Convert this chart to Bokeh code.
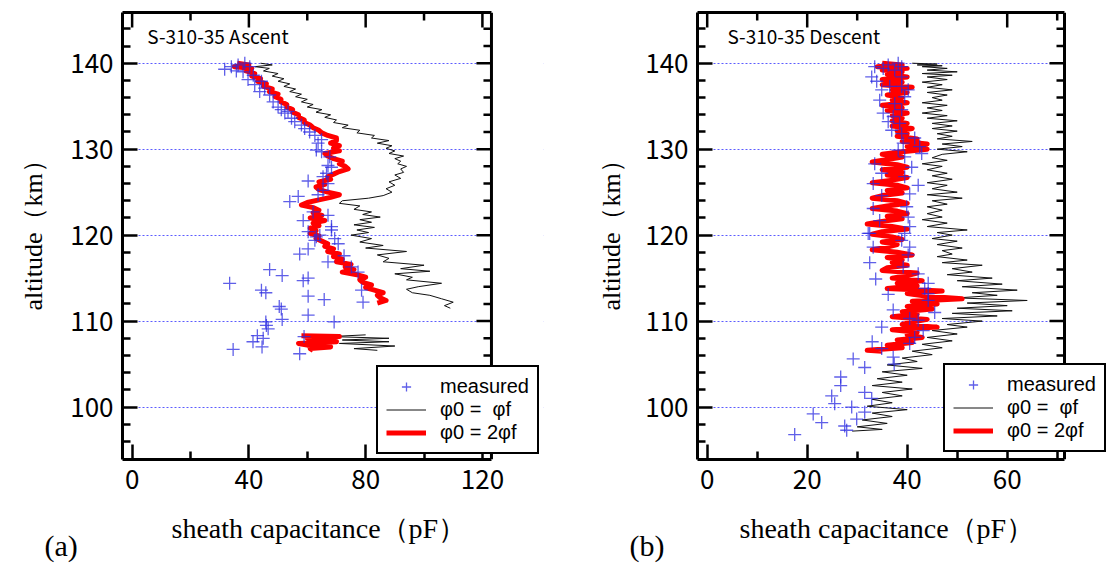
from bokeh.plotting import figure
from bokeh.models import (Range1d, LinearAxis, FixedTicker, Label, Legend, LegendItem,
                          Span, BoxAnnotation, Title)
from bokeh.layouts import row
from bokeh.embed import file_html
from bokeh.resources import INLINE
import math

# ---------------- Panel (a): S-310-35 Ascent ----------------
a_black_alt = [140.0, 139.8, 139.6, 139.4, 139.1, 138.8, 138.5, 138.2, 137.9, 137.6, 137.3, 137.0, 136.7, 136.4,
               136.1, 135.8, 135.5, 135.2, 134.9, 134.6, 134.3, 134.0, 133.7, 133.4, 133.1, 132.8, 132.5, 132.2,
               131.9, 131.6, 131.3, 131.0, 130.7, 130.4, 130.1, 129.8, 129.5, 129.2, 128.9, 128.6, 128.3, 128.0,
               127.7, 127.3, 127.0, 126.6, 126.2, 125.8, 125.4, 125.0, 124.6, 124.3, 124.0, 123.7, 123.4, 123.0,
               122.7, 122.4, 122.1, 121.8, 121.5, 121.2, 120.9, 120.6, 120.3, 120.0, 119.6, 119.2, 118.8, 118.5,
               118.1, 117.7, 117.3, 116.9, 116.5, 116.1, 115.8, 115.5, 115.1, 114.8, 114.4, 114.0, 113.7, 113.3,
               113.0, 112.6, 112.2, 111.8, 111.5]
a_black_cap = [44, 48, 42, 47, 45, 50, 48, 52, 50, 54, 52, 56, 54, 58,
               56, 60, 58, 62, 60, 65, 63, 68, 66, 70, 69, 74, 72, 78,
               77, 83, 82, 88, 84, 89, 87, 90, 88, 93, 90, 92, 91, 94,
               92, 93, 90, 92, 88, 90, 87, 89, 86, 81, 72, 71, 78, 76,
               82, 79, 85, 78, 82, 76, 83, 77, 81, 75, 82, 78, 86, 80,
               94, 84, 88, 86, 100, 92, 102, 90, 96, 94, 106, 98, 94, 96,
               102, 106, 110, 107, 109]
a_black_low_alt = [108.4, 108.2, 108.0, 107.8, 107.6, 107.4, 107.1, 106.8, 106.6]
a_black_low_cap = [80, 68, 88, 72, 88, 71, 90, 76, 84]

a_red_alt = [140.0, 139.8, 139.6, 139.4, 139.1, 138.8, 138.5, 138.2, 137.9, 137.6, 137.3, 137.0, 136.7, 136.4,
             136.1, 135.8, 135.5, 135.2, 134.9, 134.6, 134.3, 134.0, 133.7, 133.4, 133.1, 132.8, 132.5, 132.2,
             131.9, 131.6, 131.3, 131.0, 130.7, 130.4, 130.1, 129.8, 129.5, 129.2, 128.9, 128.6, 128.3, 128.0,
             127.7, 127.4, 127.1, 126.8, 126.5, 126.2, 125.9, 125.6, 125.3, 125.0, 124.7, 124.4, 124.1, 123.8,
             123.5, 123.2, 122.9, 122.6, 122.3, 122.0, 121.7, 121.4, 121.1, 120.8, 120.5, 120.2, 119.9, 119.6,
             119.3, 119.0, 118.7, 118.4, 118.1, 117.8, 117.5, 117.2, 116.9, 116.6, 116.3, 116.0, 115.7, 115.4,
             115.1, 114.8, 114.5, 114.2, 113.9, 113.6, 113.3, 113.0, 112.7, 112.4, 112.1]
a_red_cap = [36, 40, 35, 41, 39, 42, 41, 44, 43, 46, 45, 48, 47, 50,
             49, 51, 51, 53, 53, 55, 55, 57, 57, 59, 59, 61, 62, 64,
             65, 67, 70, 70, 68, 71, 69, 71, 66, 67, 69, 72, 71, 73,
             74, 71, 69, 67, 68, 64, 66, 63, 64, 67, 71, 68, 64, 60,
             58, 62, 64, 62, 65, 61, 66, 62, 64, 61, 63, 61, 64, 63,
             65, 67, 66, 69, 67, 71, 69, 72, 70, 75, 73, 76, 72, 77,
             80, 78, 79, 82, 80, 83, 86, 84, 85, 87, 84]
a_red_low_alt = [108.3, 108.2, 108.0, 107.8, 107.6, 107.4, 107.2, 107.0, 106.8, 106.6]
a_red_low_cap = [58, 71, 60, 63, 70, 57, 60, 68, 61, 62]

a_meas_cap = [31.7, 34.0, 36.3, 38.6, 40.3, 35.7, 38.0, 41.5, 39.7, 42.0, 44.3, 45.4, 43.7, 47.1, 48.3, 50.0,
              51.1, 52.3, 53.4, 54.6, 55.7, 58.0, 59.1, 60.8, 62.6, 64.9, 63.7, 63.1, 64.9, 67.7, 67.1, 68.3,
              66.6, 65.4, 67.1, 60.3, 65.4, 63.7, 54.0, 56.9, 58.6, 62.0, 67.1, 68.3, 60.3, 63.1,
              68.3, 64.3, 62.6, 69.4, 70.6, 60.3, 57.4, 72.6, 67.1, 75.1, 77.4, 47.1, 51.4, 33.4, 44.3, 45.8,
              58.6, 60.3, 60.3, 65.8, 78.6, 79.1, 50.4, 51.1, 51.4, 45.8, 46.0, 46.6, 60.3, 69.2, 42.9, 44.9,
              41.4, 44.5, 34.6, 58.9, 57.4]
a_meas_alt = [139.3, 139.6, 139.8, 140.0, 139.6, 139.1, 139.0, 138.6, 138.1, 137.5, 137.9, 137.1, 136.7, 136.3, 135.5, 134.9,
              134.6, 134.2, 134.4, 133.6, 133.2, 132.8, 132.4, 132.0, 131.6, 131.1, 130.7, 129.9, 129.7, 129.1, 128.1, 127.9,
              127.2, 126.8, 126.0, 126.3, 125.2, 124.7, 123.9, 124.5, 121.7, 122.7, 122.3, 121.0, 120.4, 119.8,
              120.6, 120.0, 119.4, 119.6, 119.0, 118.4, 117.8, 117.6, 116.9, 116.3, 115.7, 116.0, 115.3, 114.4, 113.6, 113.3,
              114.7, 115.0, 112.9, 112.5, 113.6, 112.2, 111.7, 111.4, 110.2, 109.9, 109.5, 109.1, 110.7, 109.9, 108.3, 108.0,
              107.6, 107.0, 106.7, 108.2, 106.2]

# ---------------- Panel (b): S-310-35 Descent ----------------
b_black_alt = [140.0, 139.9, 139.8, 139.7, 139.6, 139.4, 139.2, 139.0, 138.8, 138.6, 138.4, 138.1, 137.8, 137.5,
               137.2, 136.9, 136.6, 136.3, 136.0, 135.7, 135.4, 135.1, 134.8, 134.5, 134.2, 133.9, 133.6, 133.3,
               133.0, 132.7, 132.4, 132.1, 131.8, 131.5, 131.2, 130.9, 130.6, 130.3, 130.0, 129.7, 129.4, 129.0,
               128.7, 128.3, 128.0, 127.6, 127.2, 126.9, 126.5, 126.1, 125.8, 125.4, 125.0, 124.7, 124.3, 124.0,
               123.6, 123.3, 122.9, 122.5, 122.1, 121.8, 121.4, 121.0, 120.6, 120.3, 120.0, 119.6, 119.3, 118.9,
               118.5, 118.2, 117.8, 117.5, 117.1, 116.8, 116.5, 116.1, 115.7, 115.4, 115.0, 114.7, 114.3, 114.0,
               113.6, 113.3, 113.0, 112.7, 112.4, 112.1, 111.8, 111.5, 111.2, 110.9, 110.6, 110.3, 110.0, 109.6,
               109.3, 108.9, 108.5, 108.1, 107.7, 107.3, 106.9, 106.5, 106.1, 105.7, 105.3, 104.9, 104.5, 104.1,
               103.7, 103.3, 102.9, 102.5, 102.1, 101.7, 101.3, 100.9, 100.5, 100.1, 99.7, 99.3, 98.9, 98.5,
               98.1, 97.7, 97.4, 97.2]
b_black_cap = [41, 46, 42, 47, 43, 48, 44, 50, 43, 49, 44, 48, 43, 47,
               44, 49, 44, 48, 45, 47, 43, 48, 44, 47, 43, 48, 44, 50,
               45, 49, 45, 50, 46, 49, 46, 53, 47, 51, 46, 52, 47, 45,
               48, 43, 47, 44, 48, 45, 49, 44, 48, 45, 50, 44, 51, 45,
               48, 44, 47, 44, 47, 43, 48, 44, 52, 46, 49, 45, 50, 46,
               51, 47, 49, 46, 52, 47, 55, 49, 53, 48, 57, 50, 59, 51,
               62, 53, 58, 50, 64, 52, 60, 50, 61, 49, 58, 47, 55, 48,
               52, 45, 50, 44, 49, 43, 47, 41, 45, 39, 42, 36, 43, 35,
               40, 34, 39, 33, 41, 35, 39, 33, 37, 32, 40, 33, 37, 31,
               36, 30, 35, 29]

b_red_alt = [140.0, 139.8, 139.6, 139.4, 139.2, 139.0, 138.7, 138.4, 138.1, 137.8, 137.5, 137.2, 136.9, 136.6,
             136.3, 136.0, 135.7, 135.4, 135.1, 134.8, 134.5, 134.2, 133.9, 133.6, 133.3, 133.0, 132.7, 132.4,
             132.1, 131.8, 131.5, 131.2, 130.9, 130.6, 130.3, 130.0, 129.7, 129.4, 129.1, 128.8, 128.5, 128.2,
             127.9, 127.6, 127.3, 127.0, 126.7, 126.4, 126.1, 125.8, 125.5, 125.2, 124.9, 124.6, 124.3, 124.0,
             123.7, 123.4, 123.1, 122.8, 122.5, 122.2, 121.9, 121.6, 121.3, 121.0, 120.7, 120.4, 120.1, 119.8,
             119.5, 119.2, 118.9, 118.6, 118.3, 118.0, 117.7, 117.4, 117.1, 116.8, 116.5, 116.2, 115.9, 115.6,
             115.3, 115.0, 114.7, 114.4, 114.1, 113.8, 113.5, 113.2, 112.9, 112.6, 112.3, 112.0, 111.7, 111.4,
             111.1, 110.8, 110.5, 110.2, 109.9, 109.6, 109.3, 109.0, 108.7, 108.4, 108.1, 107.8, 107.5, 107.2,
             106.9, 106.6, 106.5]
b_red_cap = [35, 39, 34, 40, 35, 39, 36, 40, 35, 39, 35, 41, 37, 40,
             36, 39, 37, 40, 35, 39, 36, 40, 37, 39, 37, 40, 37, 41,
             38, 40, 38, 42, 39, 44, 40, 44, 39, 35, 39, 36, 33, 38,
             40, 35, 39, 36, 40, 37, 33, 38, 40, 36, 39, 35, 33, 38,
             40, 36, 33, 38, 40, 36, 39, 35, 32, 37, 40, 35, 33, 37,
             39, 35, 38, 36, 33, 38, 41, 36, 39, 37, 40, 36, 35, 42,
             40, 37, 43, 38, 42, 36, 47, 40, 44, 51, 41, 46, 40, 45,
             39, 42, 37, 44, 41, 39, 46, 37, 42, 40, 43, 38, 41, 36,
             39, 32, 35]

b_meas_cap = [32.9, 33.9, 34.9, 34.5, 35.2, 36.2, 36.9, 33.5, 34.9, 33.2, 34.9, 33.2, 34.5, 32.2,
              37.5, 38.9, 38.9, 39.5, 38.9, 38.5, 38.9, 41.5, 42.5, 42.9, 39.2, 39.5, 40.9, 39.5,
              42.2, 40.5, 39.9, 40.2, 40.5, 36.2, 38.2, 33.5, 35.2, 38.9, 40.2, 36.5, 37.5, 37.2, 38.2,
              32.5, 33.2, 32.5, 33.7, 36.2, 37.2, 34.9, 33.0, 34.9, 29.2, 31.5, 26.7, 26.7, 24.9, 25.5,
              28.9, 31.5, 32.9, 31.5, 29.9, 21.2, 22.9, 27.5, 27.9, 17.5, 37.2, 37.4, 40.5, 40.2, 39.2,
              42.2, 43.5, 44.2, 44.2, 45.5, 40.5, 42.2, 43.2, 41.5, 40.5, 38.9, 39.5, 44.2]
b_meas_alt = [138.4, 137.9, 136.9, 135.7, 134.2, 133.2, 132.2, 128.3, 127.2, 126.0, 124.6, 123.1, 121.7, 120.2,
              139.2, 138.4, 137.3, 136.1, 134.6, 133.0, 131.8, 131.3, 130.3, 129.5, 130.7, 129.1, 127.9, 126.8,
              125.8, 124.8, 123.3, 122.1, 121.0, 139.8, 140.0, 139.6, 139.4, 139.6, 136.9, 137.3, 135.3, 133.8, 129.9,
              120.2, 118.6, 116.8, 114.9, 113.1, 111.3, 109.3, 107.6, 106.8, 105.6, 104.6, 103.5, 102.5, 101.3, 100.4,
              100.0, 101.7, 101.0, 99.4, 98.6, 99.2, 98.2, 97.8, 97.3, 96.8, 105.8, 105.0, 118.6, 117.7, 116.3,
              115.5, 113.8, 113.2, 112.4, 111.0, 110.3, 110.1, 108.9, 108.1, 107.4, 119.4, 120.2, 114.4]

# ---------------- shared axis settings ----------------
alt_range = (93.9, 145.9)
alt_ticks = [100, 110, 120, 130, 140]
alt_minor = [96, 98, 102, 104, 106, 108, 112, 114, 116, 118, 122, 124, 126, 128, 132, 134, 136, 138, 142, 144]
a_xticks = [0, 40, 80, 120]
a_xminor = [20, 60, 100]
b_xticks = [0, 20, 40, 60]
b_xminor = [10, 30, 50, 70]

legend_labels = ["measured", "φ0 =  φf", "φ0 = 2φf"]
titles = ["S-310-35 Ascent", "S-310-35 Descent"]
xlabel = "sheath capacitance（pF）"
ylabel = "altitude（km）"
panel_tags = ["(a)", "(b)"]

GOTHIC = "Noto Sans CJK JP"
LEGEND_FONT = "Liberation Sans"
SERIF = "Liberation Serif"
BLUE = "#2a2ae0"


def style_axis(ax):
    ax.axis_line_width = 3
    ax.axis_line_color = "black"
    ax.major_tick_in = 15
    ax.major_tick_out = 0
    ax.minor_tick_in = 8
    ax.minor_tick_out = 0
    ax.major_tick_line_width = 2.5
    ax.minor_tick_line_width = 2.5
    ax.major_tick_line_color = "black"
    ax.minor_tick_line_color = "black"
    ax.major_label_text_font = GOTHIC
    ax.major_label_text_font_size = "26px"
    ax.major_label_text_color = "black"


def text_title(text, align, offset, valign, standoff, size):
    return Title(text=text, align=align, offset=offset, vertical_align=valign, standoff=standoff,
                 text_font=SERIF, text_font_size=size, text_font_style="normal",
                 text_color="black")


def make_panel(x_vis, px_per_unit, border_left, frame_w, border_right, xticks, xminor,
               black_sets, red_sets, meas_cap, meas_alt, title, title_x, tag,
               leg_loc, ylab_standoff, xlab_offset, tag_offset):
    x0, x1 = x_vis
    x_end = x0 + frame_w / px_per_unit
    p = figure(frame_width=frame_w, frame_height=447,
               min_border_left=border_left, min_border_right=border_right,
               min_border_top=12, min_border_bottom=104,
               x_range=Range1d(x0, x_end), y_range=Range1d(*alt_range),
               output_backend="svg", toolbar_location=None,
               background_fill_color="white", border_fill_color="white")
    p.outline_line_color = None

    # bottom / left axes
    p.xaxis.ticker = FixedTicker(ticks=xticks, minor_ticks=xminor)
    p.yaxis.ticker = FixedTicker(ticks=alt_ticks, minor_ticks=alt_minor)
    style_axis(p.xaxis[0])
    style_axis(p.yaxis[0])
    p.xaxis.bounds = (x0, x1)
    p.xaxis.major_label_standoff = 10
    p.yaxis.major_label_standoff = 9

    # top frame line
    top = LinearAxis(ticker=FixedTicker(ticks=[]), bounds=(x0, x1), axis_line_width=3,
                     axis_line_color="black")
    p.add_layout(top, "above")

    # axis titles and panel tag
    p.add_layout(text_title(ylabel, "left", 149, "top", ylab_standoff, "26px"), "left")
    p.add_layout(text_title(xlabel, "left", xlab_offset, "top", 42, "28px"), "below")
    p.add_layout(text_title(tag, "left", tag_offset, "top", -76, "30px"), "below")

    # grid
    p.xgrid.visible = False
    p.ygrid.ticker = FixedTicker(ticks=alt_ticks)
    p.ygrid.grid_line_color = "#5c5cff"
    p.ygrid.grid_line_dash = "2 2"
    p.ygrid.grid_line_width = 1

    # data
    r_black = None
    for cap, alt in black_sets:
        r = p.line(cap, alt, line_color="#111111", line_width=1)
        r_black = r_black or r
    r_red = None
    for cap, alt in red_sets:
        r = p.line(cap, alt, line_color="#ff0000", line_width=5, line_join="round")
        r_red = r_red or r
    r_meas = p.scatter(meas_cap, meas_alt, marker="cross", size=13, line_color=BLUE,
                       line_alpha=0.75, line_width=1.3)

    # mirrored ticks on top and right edges
    ymax = alt_range[1]
    p.ray(x=xticks, y=[ymax] * len(xticks), length=15, angle=-math.pi / 2,
          length_units="screen", line_color="black", line_width=2.5)
    p.ray(x=xminor, y=[ymax] * len(xminor), length=8, angle=-math.pi / 2,
          length_units="screen", line_color="black", line_width=2.5)
    p.ray(x=[x1] * len(alt_ticks), y=alt_ticks, length=15, angle=math.pi,
          length_units="screen", line_color="black", line_width=2.5)
    p.ray(x=[x1] * len(alt_minor), y=alt_minor, length=8, angle=math.pi,
          length_units="screen", line_color="black", line_width=2.5)

    # blank area right of the plot box, then the right frame line
    p.add_layout(BoxAnnotation(left=x1, right=x_end + 50, top=alt_range[1] + 20,
                               bottom=alt_range[0] - 20,
                               fill_color="white", fill_alpha=1, line_alpha=0))
    p.add_layout(Span(location=x1, dimension="height", line_color="black", line_width=3))

    p.add_layout(Label(x=title_x, y=143.2, text=title, text_font=GOTHIC,
                       text_font_size="19px", text_baseline="middle", text_align="left",
                       text_color="black"))

    legend = Legend(items=[LegendItem(label=legend_labels[0], renderers=[r_meas]),
                           LegendItem(label=legend_labels[1], renderers=[r_black]),
                           LegendItem(label=legend_labels[2], renderers=[r_red])],
                    location=leg_loc, orientation="vertical",
                    border_line_color="black", border_line_width=2.5, border_line_alpha=1,
                    background_fill_color="white", background_fill_alpha=1,
                    padding=8, spacing=0, margin=0,
                    glyph_width=40, glyph_height=23, label_height=23, label_standoff=14,
                    label_text_font=LEGEND_FONT, label_text_font_size="20px",
                    label_text_color="black")
    p.add_layout(legend, "center")
    return p


pa = make_panel((-3.3, 123.1), 2.919, 121, 421, 38, a_xticks, a_xminor,
                [(a_black_cap, a_black_alt), (a_black_low_cap, a_black_low_alt)],
                [(a_red_cap, a_red_alt), (a_red_low_cap, a_red_low_alt)],
                a_meas_cap, a_meas_alt, titles[0], 5.2, panel_tags[0],
                (254, 5), 36, 49, -78)

pb = make_panel((-1.94, 71.46), 5.0, 116, 418, 0, b_xticks, b_xminor,
                [(b_black_cap, b_black_alt)],
                [(b_red_cap, b_red_alt)],
                b_meas_cap, b_meas_alt, titles[1], 4.06, panel_tags[1],
                (246, 7), 30, 42, -68)

layout = row(pa, pb)
open("out.html", "w").write(file_html(layout, INLINE))
